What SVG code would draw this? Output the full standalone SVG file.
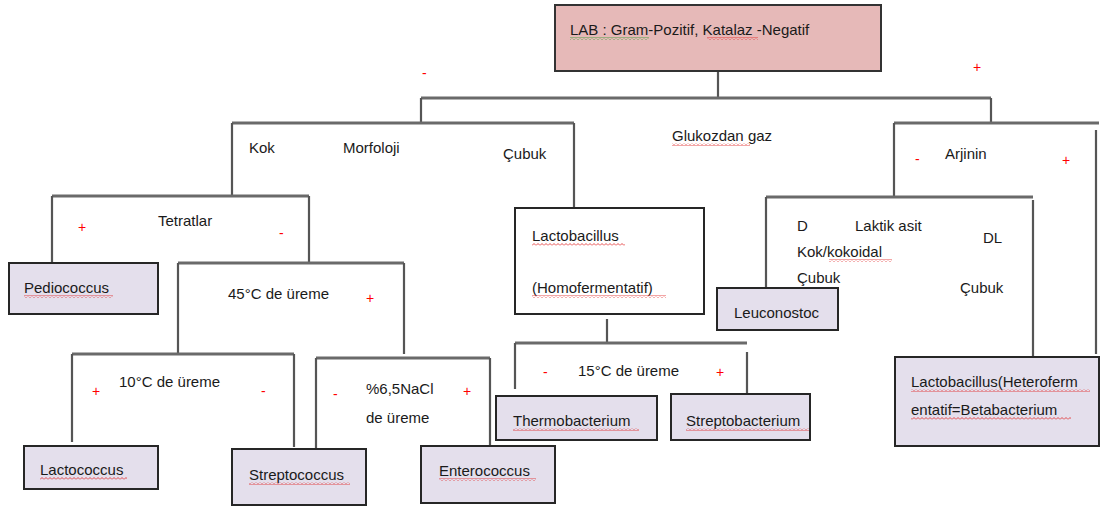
<svg xmlns="http://www.w3.org/2000/svg" width="1101" height="506" viewBox="0 0 1101 506">
<defs>
<pattern id="sqR" width="4" height="3" patternUnits="userSpaceOnUse"><path d="M0,2.5 L2,0.5 L4,2.5" fill="none" stroke="#e02020" stroke-width="0.8"/></pattern>
<pattern id="sqG" width="4" height="3" patternUnits="userSpaceOnUse"><path d="M0,2.5 L2,0.5 L4,2.5" fill="none" stroke="#2a9a2a" stroke-width="0.8"/></pattern>
</defs>
<style>
text{font-family:"Liberation Sans",Arial,sans-serif;font-size:15px;fill:#1a1a1a}
.sign{fill:#ff0000;font-size:14px}
.box{fill:#e4dfec;stroke:#262626;stroke-width:2}
.wbox{fill:#ffffff;stroke:#262626;stroke-width:2}
.root{fill:#e6b9b8;stroke:#333333;stroke-width:2}
.c{stroke:#555555;stroke-width:2.2;fill:none}
.h{stroke:#6a6a6a;stroke-width:3;fill:none}
.sqr{fill:url(#sqR)}
.sqg{fill:url(#sqG)}
</style>
<rect width="1101" height="506" fill="#ffffff"/>

<g id="connectors">
<path class="c" d="M718,71 V98"/>
<path class="h" d="M421,98 H991"/>
<path class="c" d="M421,98 V123 M991,98 V123"/>
<path class="h" d="M232,123 H574"/>
<path class="c" d="M232,123 V196 M574,123 V207"/>
<path class="h" d="M894,123 H1099"/>
<path class="c" d="M894,123 V197 M1096,130 V354"/>
<path class="h" d="M52,196 H309"/>
<path class="c" d="M52,196 V263 M309,196 V263"/>
<path class="h" d="M178,263 H404"/>
<path class="c" d="M178,263 V355 M404,263 V354"/>
<path class="h" d="M72,354 H294"/>
<path class="c" d="M72,354 V442 M294,354 V447"/>
<path class="h" d="M316,358 H490"/>
<path class="c" d="M316,358 V449 M490,358 V446"/>
<path class="c" d="M607,319 V343"/>
<path class="h" d="M515,343 H747"/>
<path class="c" d="M515,343 V389 M747,352 V394"/>
<path class="h" d="M766,197 H1033"/>
<path class="c" d="M766,197 V288 M1033,200 V356"/>
</g>

<g id="labels">
<text class="sign" x="422" y="78">-</text>
<text class="sign" x="973" y="72">+</text>
<text x="249" y="153">Kok</text>
<text x="343" y="153">Morfoloji</text>
<text x="503" y="159">Çubuk</text>
<text x="672" y="141">Glukozdan gaz</text>
<rect class="sqr" x="672" y="143" width="78" height="3"/>
<text class="sign" x="915" y="164">-</text>
<text x="945" y="159">Arjinin</text>
<text class="sign" x="1062" y="165">+</text>
<text class="sign" x="78" y="232">+</text>
<text x="158" y="226">Tetratlar</text>
<text class="sign" x="279" y="238">-</text>
<text x="228" y="299">45°C de üreme</text>
<text class="sign" x="366" y="303">+</text>
<text class="sign" x="92" y="396">+</text>
<text x="119" y="387">10°C de üreme</text>
<text class="sign" x="261" y="396">-</text>
<text class="sign" x="333" y="399">-</text>
<text x="366" y="394">%6,5NaCl</text>
<text x="366" y="423">de üreme</text>
<text class="sign" x="463" y="396">+</text>
<text class="sign" x="543" y="377">-</text>
<text x="578" y="376">15°C de üreme</text>
<text class="sign" x="716" y="377">+</text>
<text x="797" y="231">D</text>
<text x="855" y="231">Laktik asit</text>
<text x="983" y="243">DL</text>
<text x="797" y="257">Kok/kokoidal</text>
<rect class="sqr" x="829" y="259" width="63" height="3"/>
<text x="797" y="283">Çubuk</text>
<text x="960" y="293">Çubuk</text>
</g>

<g id="node-root">
<rect class="root" x="555" y="5" width="326" height="66"/>
<text x="570" y="35">LAB : Gram-Pozitif, Katalaz -Negatif</text>
<rect class="sqg" x="570" y="37" width="79" height="3"/>
<rect class="sqr" x="707" y="37" width="51" height="3"/>
</g>

<g id="node-pediococcus">
<rect class="box" x="9" y="263" width="149" height="51"/>
<text x="24" y="293">Pediococcus</text>
<rect class="sqr" x="24" y="295" width="89" height="3"/>
</g>

<g id="node-lactococcus">
<rect class="box" x="24" y="446" width="134" height="43"/>
<text x="40" y="475">Lactococcus</text>
<rect class="sqr" x="40" y="477" width="87" height="3"/>
</g>

<g id="node-streptococcus">
<rect class="box" x="232" y="449" width="134" height="56"/>
<text x="249" y="480">Streptococcus</text>
<rect class="sqr" x="249" y="482" width="101" height="3"/>
</g>

<g id="node-enterococcus">
<rect class="box" x="421" y="446" width="134" height="57"/>
<text x="439" y="476">Enterococcus</text>
<rect class="sqr" x="439" y="478" width="97" height="3"/>
</g>

<g id="node-lactobacillus-homo">
<rect class="wbox" x="515" y="208" width="189" height="106"/>
<text x="532" y="241">Lactobacillus</text>
<rect class="sqr" x="532" y="243" width="93" height="3"/>
<text x="532" y="293">(Homofermentatif)</text>
<rect class="sqr" x="532" y="295" width="134" height="3"/>
</g>

<g id="node-thermobacterium">
<rect class="box" x="496" y="396" width="161" height="44"/>
<text x="513" y="426">Thermobacterium</text>
<rect class="sqr" x="513" y="428" width="126" height="3"/>
</g>

<g id="node-streptobacterium">
<rect class="box" x="671" y="394" width="139" height="46"/>
<text x="686" y="426">Streptobacterium</text>
<rect class="sqr" x="686" y="428" width="123" height="3"/>
</g>

<g id="node-leuconostoc">
<rect class="box" x="717" y="288" width="121" height="42"/>
<text x="734" y="318">Leuconostoc</text>
</g>

<g id="node-lactobacillus-hetero">
<rect class="box" x="895" y="357" width="204" height="89"/>
<text x="911" y="387">Lactobacillus(Heteroferm</text>
<rect class="sqr" x="911" y="389" width="179" height="3"/>
<text x="911" y="415">entatif=Betabacterium</text>
<rect class="sqr" x="911" y="417" width="160" height="3"/>
</g>
</svg>
